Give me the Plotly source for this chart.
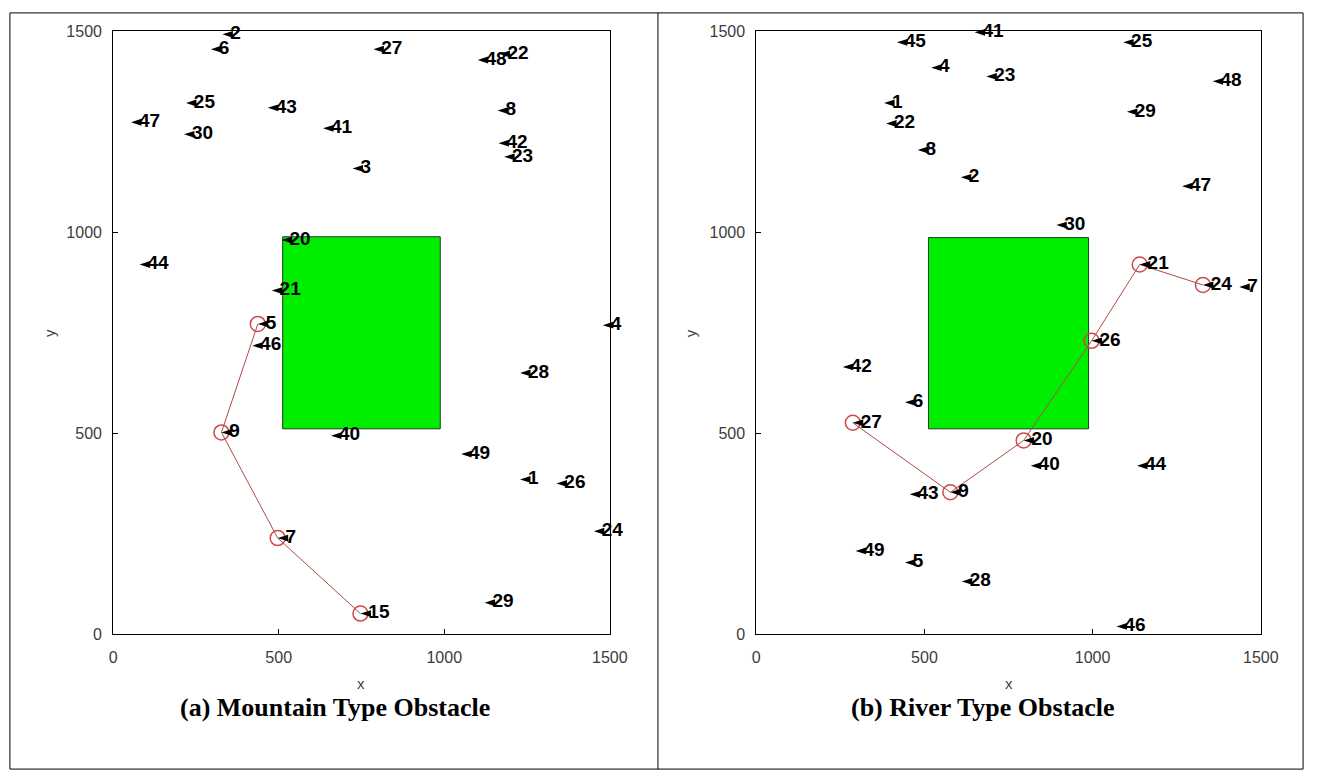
import plotly.graph_objects as go

# ---------------- data ----------------
# (a) mountain type obstacle: node ids and positions
a_ids = [2, 6, 25, 47, 30, 43, 41, 3, 27, 48, 22, 8, 42, 23, 20, 44, 21, 5, 46,
         9, 40, 4, 28, 49, 1, 26, 24, 29, 7, 15]
a_x = [330, 295, 220, 54, 214, 467, 634, 723, 786, 1101, 1167, 1161, 1164, 1181,
       509, 80, 479, 437, 420, 327, 658, 1479, 1229, 1051, 1229, 1339, 1452, 1122,
       497, 747]
a_y = [1493, 1456, 1322, 1274, 1244, 1310, 1259, 1159, 1456, 1429, 1444, 1303,
       1222, 1188, 981, 920, 855, 772, 718, 502, 494, 769, 650, 448, 385, 375,
       256, 78, 239, 51]
a_route = [5, 9, 7, 15]

# (b) river type obstacle
b_ids = [45, 41, 4, 23, 1, 22, 8, 2, 25, 48, 29, 47, 30, 21, 24, 7, 26, 42, 6,
         27, 20, 40, 44, 43, 9, 49, 5, 28, 46]
b_x = [418, 649, 520, 684, 380, 386, 480, 608, 1091, 1357, 1102, 1266, 892, 1140,
       1328, 1436, 997, 257, 442, 287, 795, 816, 1132, 456, 577, 295, 442, 611,
       1071]
b_y = [1473, 1498, 1410, 1388, 1322, 1271, 1205, 1137, 1473, 1376, 1300, 1115,
       1018, 920, 869, 864, 730, 665, 577, 526, 482, 419, 419, 348, 353, 207, 178,
       131, 19]
b_route = [27, 9, 20, 26, 21, 24]

# obstacle bounds [x0, x1, y0, y1]
a_obstacle = [512, 988, 511, 989]
b_obstacle = [512, 988, 511, 987]

axis_ticks = [0, 500, 1000, 1500]
captions = ["(a) Mountain Type Obstacle", "(b) River Type Obstacle"]

# ---------------- layout geometry (pixels) ----------------
W, H = 1325, 782
panels = [
    dict(px=(111, 616), cap_x=337, ytitle_dx=64),
    dict(px=(765, 1278), cap_x=996, ytitle_dx=67),
]
PY_TOP, PY_BOT = 24, 640

fig = go.Figure()

label_font = dict(family="Liberation Sans Narrow, Arial Narrow, Liberation Sans, sans-serif",
                  size=19, color="black", weight="bold")


def add_panel(ids, xs, ys, route, obst, xa, ya):
    x0, x1, y0, y1 = obst
    # green obstacle block
    fig.add_trace(go.Scatter(
        x=[x0, x1, x1, x0, x0], y=[y0, y0, y1, y1, y0],
        mode="lines", fill="toself", fillcolor="#00ee00",
        line=dict(color="#1f3d1f", width=1), hoverinfo="skip",
        xaxis=xa, yaxis=ya, showlegend=False))
    # route through selected nodes
    pos = {i: (x, y) for i, x, y in zip(ids, xs, ys)}
    rx = [pos[i][0] for i in route]
    ry = [pos[i][1] for i in route]
    fig.add_trace(go.Scatter(
        x=rx, y=ry, mode="lines+markers",
        line=dict(color="#b04a4a", width=1),
        marker=dict(symbol="circle-open", size=15,
                    line=dict(color="#cc4a4a", width=1.5), color="#cc4a4a"),
        hoverinfo="skip", xaxis=xa, yaxis=ya, showlegend=False))
    # node labels with a left-pointing arrow at each node
    fig.add_trace(go.Scatter(
        x=xs, y=ys, mode="markers+text",
        text=[str(i) for i in ids], textposition="middle right",
        textfont=label_font,
        marker=dict(symbol="arrow", angle=-90, size=11, color="black",
                    line=dict(width=0)),
        hoverinfo="skip", xaxis=xa, yaxis=ya, showlegend=False,
        cliponaxis=False))


add_panel(a_ids, a_x, a_y, a_route, a_obstacle, "x", "y")
add_panel(b_ids, b_x, b_y, b_route, b_obstacle, "x2", "y2")

tick_font = dict(family="Liberation Sans, Arial, sans-serif", size=16,
                 color="#3c3c3c")
common = dict(range=[0, 1500], tickvals=axis_ticks, ticks="inside", ticklen=5,
              tickcolor="black", showline=True, linecolor="black",
              linewidth=1, mirror=True, showgrid=False, zeroline=False,
              tickfont=tick_font, fixedrange=True)

ydom = [1 - PY_BOT / H, 1 - PY_TOP / H]
layout_axes = {}
for k, p in enumerate(panels):
    sfx = "" if k == 0 else str(k + 1)
    layout_axes["xaxis" + sfx] = dict(
        common, domain=[p["px"][0] / W, p["px"][1] / W],
        anchor="y" + sfx, ticklabelstandoff=9)
    layout_axes["yaxis" + sfx] = dict(
        common, domain=ydom, anchor="x" + sfx, ticklabelstandoff=7)

annotations = []
title_font = dict(family="Liberation Sans, Arial, sans-serif", size=15,
                  color="#444444")
cap_font = dict(family="Liberation Serif, Times New Roman, serif", size=26,
                color="black")
for k, p in enumerate(panels):
    cx = (p["px"][0] + p["px"][1]) / 2
    annotations.append(dict(x=cx / W, y=1 - 691 / H, xref="paper", yref="paper",
                            xanchor="center", yanchor="middle",
                            text="x", showarrow=False, font=title_font))
    annotations.append(dict(x=(p["px"][0] - p["ytitle_dx"]) / W, y=1 - 332 / H,
                            xref="paper", yref="paper", text="y",
                            xanchor="center", yanchor="middle",
                            textangle=-90, showarrow=False, font=title_font))
    annotations.append(dict(x=p["cap_x"] / W, y=1 - 715 / H,
                            xref="paper", yref="paper",
                            xanchor="center", yanchor="middle",
                            text="<b>" + captions[k] + "</b>", showarrow=False,
                            font=cap_font))

# table frame around the two panels
frame = dict(type="line", xref="paper", yref="paper",
             line=dict(color="black", width=1))
T, B, L, M, R = 5, 778, 6, 665, 1321
shapes = [
    dict(frame, x0=L / W, x1=R / W, y0=1 - T / H, y1=1 - T / H),
    dict(frame, x0=L / W, x1=R / W, y0=1 - B / H, y1=1 - B / H),
    dict(frame, x0=L / W, x1=L / W, y0=1 - T / H, y1=1 - B / H),
    dict(frame, x0=M / W, x1=M / W, y0=1 - T / H, y1=1 - B / H),
    dict(frame, x0=R / W, x1=R / W, y0=1 - T / H, y1=1 - B / H),
]

fig.update_layout(width=W, height=H, margin=dict(l=0, r=0, t=0, b=0),
                  paper_bgcolor="white", plot_bgcolor="white",
                  annotations=annotations, shapes=shapes, showlegend=False,
                  **layout_axes)

fig.write_html("out.html", config={"displayModeBar": False})
